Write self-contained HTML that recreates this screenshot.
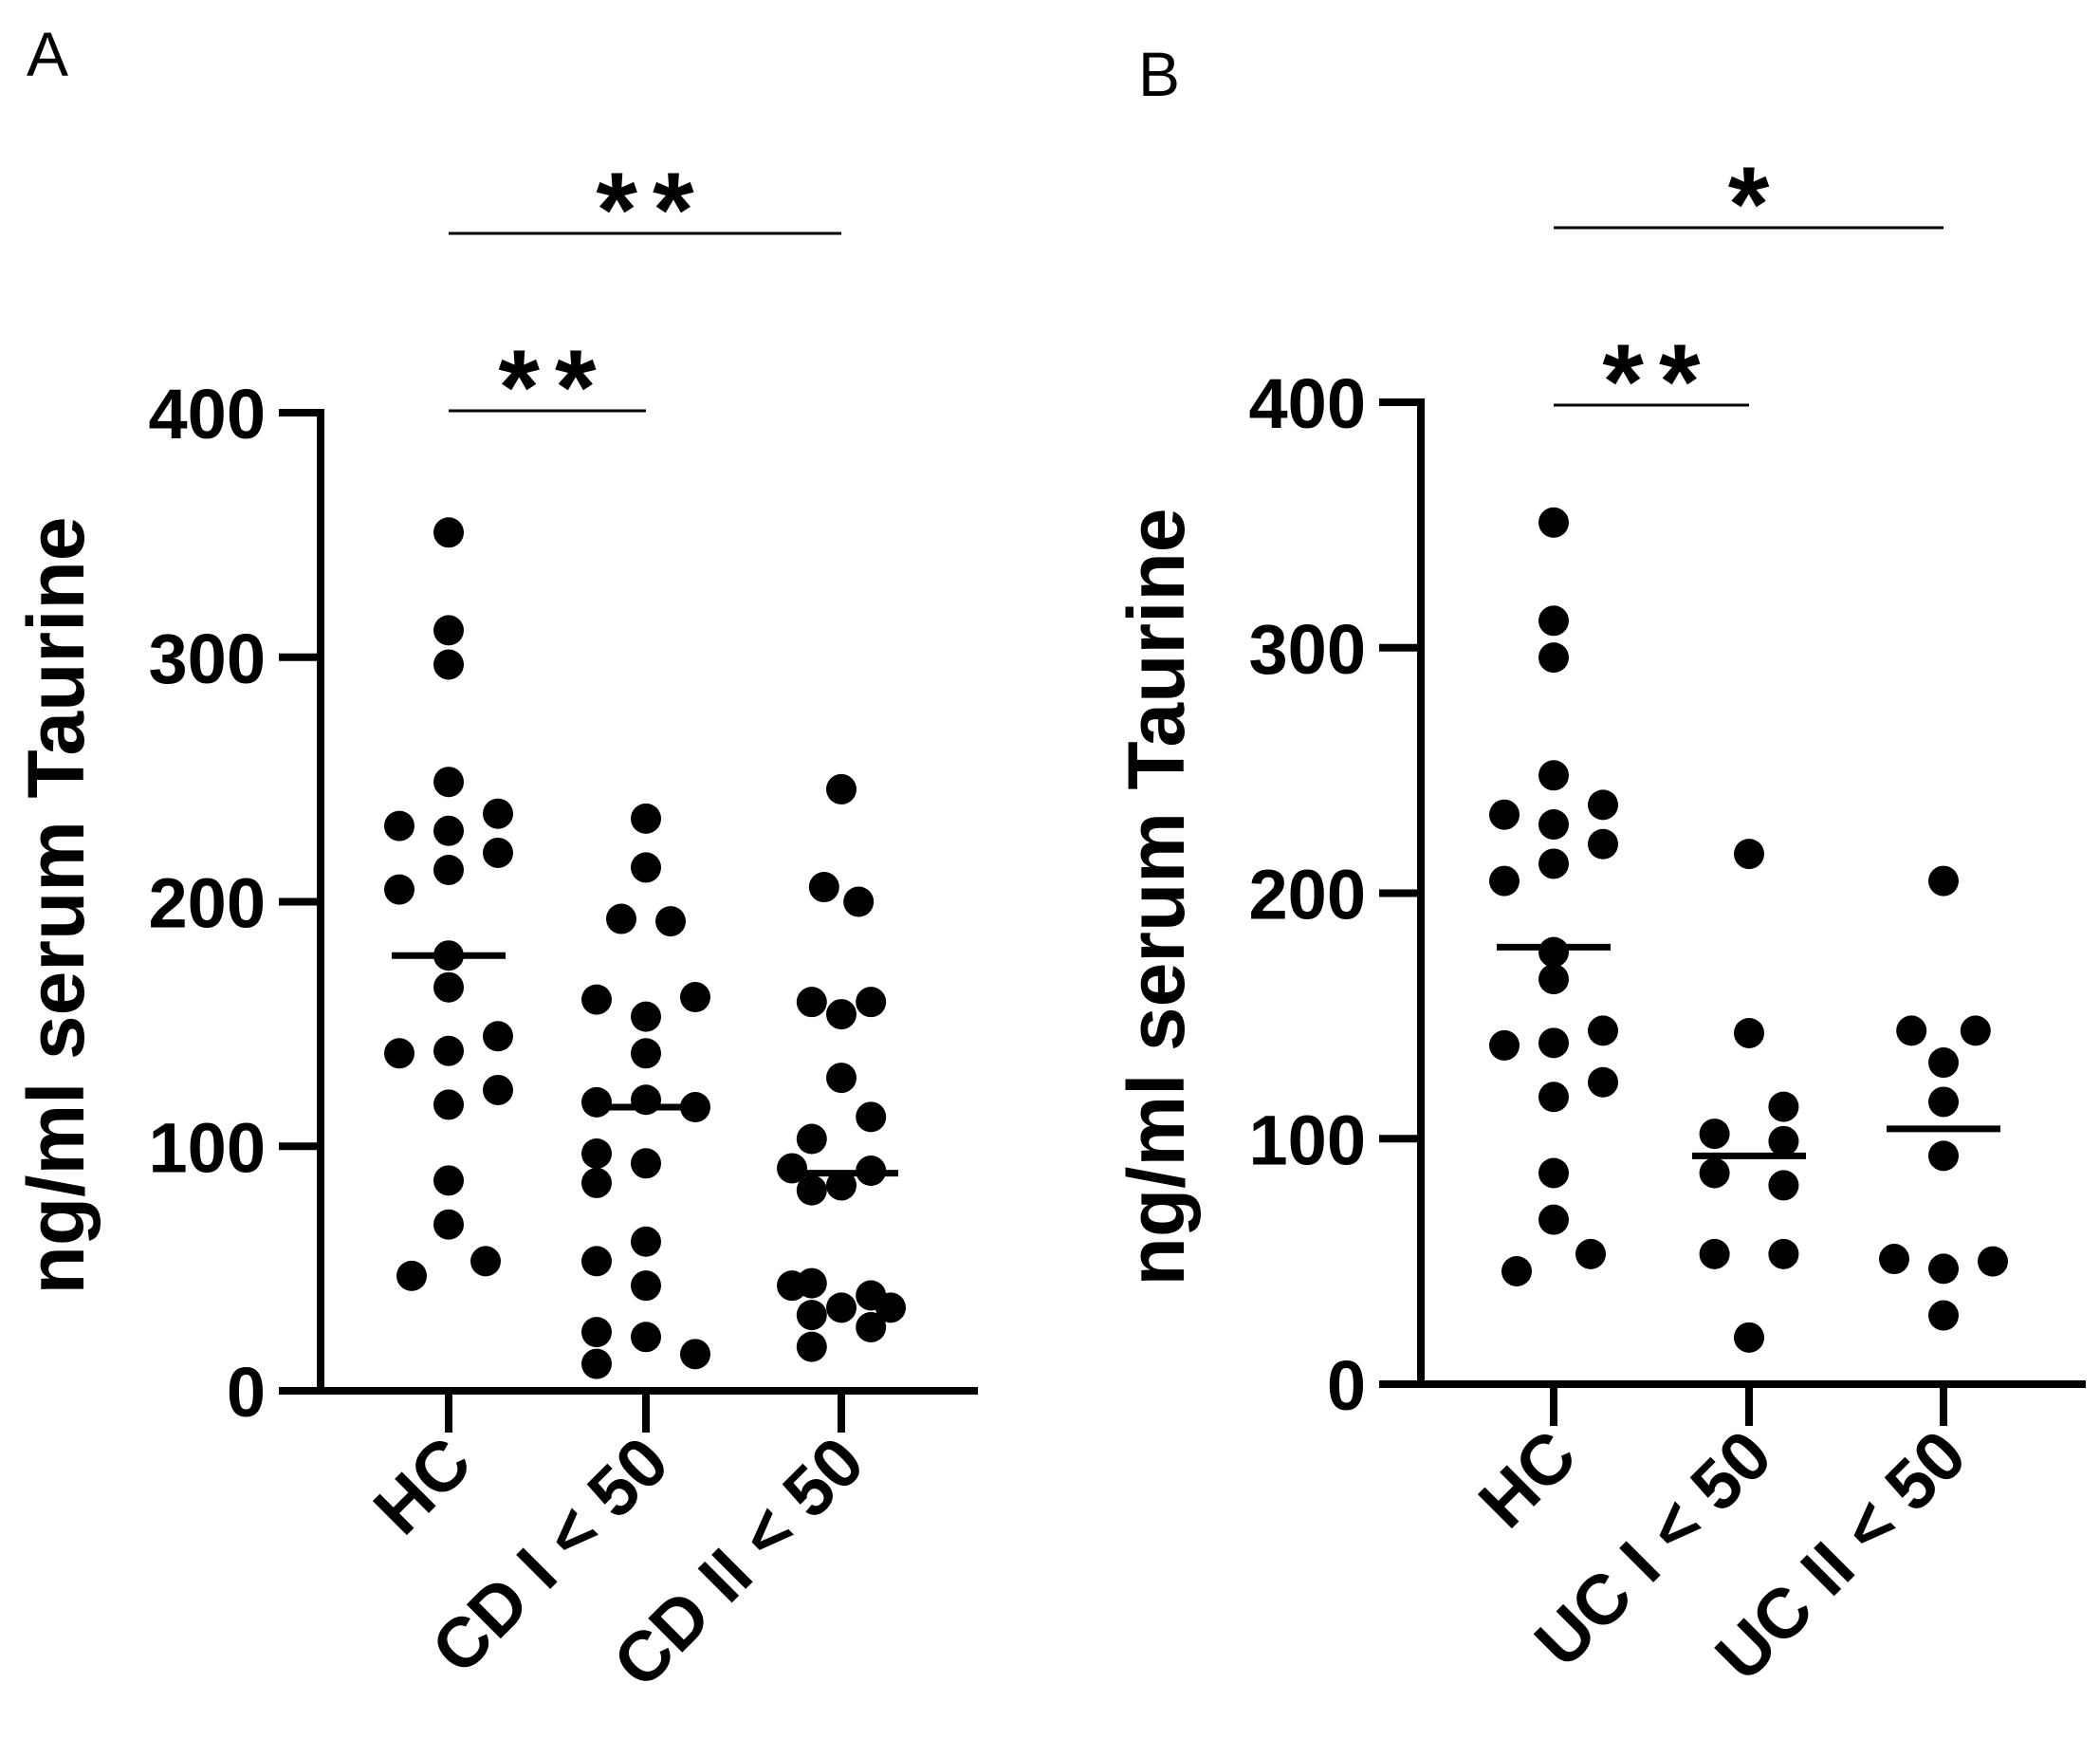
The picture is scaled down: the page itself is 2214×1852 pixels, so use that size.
<!DOCTYPE html>
<html><head><meta charset="utf-8"><style>
html,body{margin:0;padding:0;background:#fff;}
svg{display:block;}
text{font-family:"Liberation Sans",Arial,sans-serif;}
</style></head><body>
<svg id="fig" width="2214" height="1852" viewBox="0 0 2214 1852" xmlns="http://www.w3.org/2000/svg">
<text x="28" y="80" font-size="66">A</text>
<text x="1200" y="101" font-size="66">B</text>
<g id="panelA"></g>
<g id="panelB"></g>
</svg>
<script>
// ---- data ----
const yTicks = [0, 100, 200, 300, 400];
const catsA = ["HC", "CD I < 50", "CD II < 50"];
const catsB = ["HC", "UC I < 50", "UC II < 50"];
const hcValsA = [351,311,297,249,231,229,236,220,213,205,178,165,138,139,145,123,117,86,68,53,47];
const hcDodgeA = [0,0,0,0,-2,0,2,2,0,-2,0,0,-2,0,2,2,0,0,0,1.5,-1.5];
const cd1Vals = [234,214,193,192,160,153,161,138,118,119,116,97,93,85,61,53,43,24,22,15,11];
const cd1Dodge = [0,0,-1,1,-2,0,2,0,-2,0,2,-2,0,-2,0,-2,0,-2,0,2,-2];
const cd2Vals = [246,206,200,159,159,154,128,112,103,91,90,84,82,44,43,39,34,34,31,26,18];
const cd2Dodge = [0,-0.7,0.7,-1.2,1.2,0,0,1.2,-1.2,-2,1.2,0,-1.2,-1.2,-2,1.2,0,2,-1.2,1.2,-1.2];
const medA = [178, 116, 89];
const hcValsB = [351,311,296,248,232,228,236,220,212,205,176,165,138,139,144,123,117,86,67,53,46];
const hcDodgeB = [0,0,0,0,-2,0,2,2,0,-2,0,0,-2,0,2,2,0,0,0,1.5,-1.5];
const uc1Vals = [216,143,113,102,99,86,81,53,53,19];
const uc1Dodge = [0,0,1.4,-1.4,1.4,-1.4,1.4,-1.4,1.4,0];
const uc2Vals = [205,144,144,131,115,93,51,47,50,28];
const uc2Dodge = [0,-1.3,1.3,0,0,0,-2,0,2,0];
const medB = [178, 93, 104];

function mk(tag, attrs, parent){
  const e = document.createElementNS("http://www.w3.org/2000/svg", tag);
  for (const k in attrs) e.setAttribute(k, attrs[k]);
  parent.appendChild(e); return e;
}

function drawPanel(g, cfg, cats, groups, dodges, meds, sig){
  const y = v => cfg.y0 - (v/400)*(cfg.y0 - cfg.y400);
  const DOT = 26;
  let e = mk("line",{x1:cfg.ax,y1:y(400)-4,x2:cfg.ax,y2:cfg.y0,stroke:"#000","stroke-width":8},g);
  
  
  yTicks.forEach(t=>{
    const tl = mk("line",{x1:cfg.ax-44,y1:y(t),x2:cfg.ax,y2:y(t),stroke:"#000","stroke-width":8},g);
    
    
    const tx = mk("text",{x:cfg.ax-58,y:y(t)+27,"font-size":74,"font-weight":"bold","text-anchor":"end"},g);
    tx.textContent = t;
    
    
  });
  const yt = mk("text",{x:0,y:0,"font-size":84,"font-weight":"bold","text-anchor":"middle",transform:`translate(${cfg.ax-250},${(y(0)+y(400))/2+4}) rotate(-90)`},g);
  yt.textContent = "ng/ml serum Taurine";
  
  
  e = mk("line",{x1:cfg.ax-44,y1:cfg.y0,x2:cfg.xEnd,y2:cfg.y0,stroke:"#000","stroke-width":8},g);
  
  
  cats.forEach((c,i)=>{
    const cx = cfg.cx[i];
    const tk = mk("line",{x1:cx,y1:cfg.y0,x2:cx,y2:cfg.y0+44,stroke:"#000","stroke-width":8},g);
    
    
    const lb = mk("text",{x:0,y:0,"font-size":74,"font-weight":"bold","text-anchor":"end",transform:`translate(${cx+28},${cfg.y0+80}) rotate(-45)`},g);
    lb.textContent = c;
    
    
    groups[i].forEach((v,j)=>{
      const d = mk("circle",{cx:cx+dodges[i][j]*DOT,cy:y(v),r:16,fill:"#000"},g);
      
      
    });
    const m = mk("line",{x1:cx-60,y1:y(meds[i]),x2:cx+60,y2:y(meds[i]),stroke:"#000","stroke-width":7},g);
    
    
  });
  sig.forEach(s=>{
    const l = mk("line",{x1:cfg.cx[s.a],y1:s.y,x2:cfg.cx[s.b],y2:s.y,stroke:"#000","stroke-width":3},g);
    
    
    const t = mk("text",{x:(cfg.cx[s.a]+cfg.cx[s.b])/2+8,y:s.y+14,"font-size":112,"font-weight":"bold","text-anchor":"middle","letter-spacing":16},g);
    t.textContent = s.label;
    
    
  });
}

drawPanel(document.getElementById("panelA"),
  {ax:338,y0:1466,y400:435,xEnd:1031,cx:[473,681,887]},
  catsA,[hcValsA,cd1Vals,cd2Vals],[hcDodgeA,cd1Dodge,cd2Dodge],medA,
  [{a:0,b:2,y:246,label:"**"},{a:0,b:1,y:433,label:"**"}]);
drawPanel(document.getElementById("panelB"),
  {ax:1498,y0:1459,y400:424,xEnd:2199,cx:[1638,1844,2049]},
  catsB,[hcValsB,uc1Vals,uc2Vals],[hcDodgeB,uc1Dodge,uc2Dodge],medB,
  [{a:0,b:2,y:240,label:"*"},{a:0,b:1,y:427,label:"**"}]);
</script>
</body></html>
